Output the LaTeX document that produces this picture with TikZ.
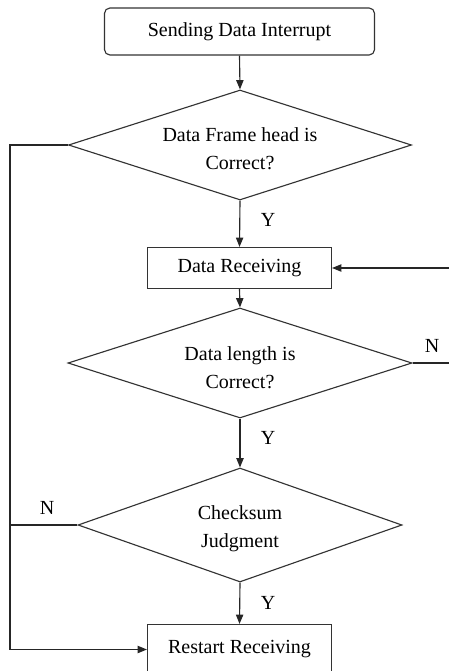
\documentclass[tikz,border=0pt]{standalone}
\usepackage{fontspec}
\setmainfont{Liberation Serif}
\usetikzlibrary{shapes.geometric,arrows.meta}
\begin{document}
\begin{tikzpicture}[x=0.75pt,y=-0.75pt,
  line width=0.85pt,
  txt/.style={font=\fontsize{15}{21}\selectfont, text=black},
  box/.style={txt, draw=black!80, rectangle, inner sep=0pt, minimum width=138pt},
  dec/.style={draw=black!80, diamond, inner sep=0pt},
  dtxt/.style={txt, inner sep=0pt, align=center},
  lbl/.style={txt, inner sep=0pt},
  conn/.style={draw=black!85},
  arr/.style={conn, -{Triangle[length=7pt,width=5.5pt]}}]
\useasboundingbox (0,0) rectangle (449,671);
\clip (0,0) rectangle (449,671);
\node[box, rounded corners=4pt, minimum width=202.5pt, minimum height=35.25pt] (start) at (239.5,31.5) {Sending Data Interrupt};
\node[dec, minimum width=257.25pt, minimum height=82.5pt] (d1) at (240,145) {};
\node[dtxt] (t1) at (240,149) {Data Frame head is\\Correct?};
\node[box, minimum height=30.75pt] (recv) at (239.5,268) {\raisebox{-1.5pt}{Data Receiving}};
\node[dec, minimum width=258pt, minimum height=82.5pt] (d2) at (240,363) {};
\node[dtxt] (t2) at (240,368) {Data length is\\Correct?};
\node[dec, minimum width=243pt, minimum height=85.5pt] (d3) at (240,525) {};
\node[dtxt] (t3) at (240,529) {Checksum\\Judgment};
\node[box, minimum height=37.5pt] (restart) at (239.5,649.5) {Restart Receiving};
\node[lbl] (y1) at (268,220) {Y};
\node[lbl] (y2) at (268,438) {Y};
\node[lbl] (y3) at (268,603) {Y};
\node[lbl] (n2) at (432,346) {N};
\node[lbl] (n3) at (47,508) {N};
\coordinate (L1) at (10,145);
\coordinate (L3) at (10,525);
\coordinate (R1) at (452,268);
\coordinate (R2) at (452,363);
\draw[arr] (start.south) -- (d1.north);
\draw[arr] (d1.south) -- (recv.north);
\draw[arr] (recv.south) -- (d2.north);
\draw[arr] (d2.south) -- (d3.north);
\draw[arr] (d3.south) -- (restart.north);
\draw[arr] (d1.west) -- (L1) |- (restart.west);
\draw[conn] (d3.west) -- (L3);
\draw[arr] (R1) -- (recv.east);
\draw[conn] (d2.east) -- (R2);
\end{tikzpicture}
\end{document}
